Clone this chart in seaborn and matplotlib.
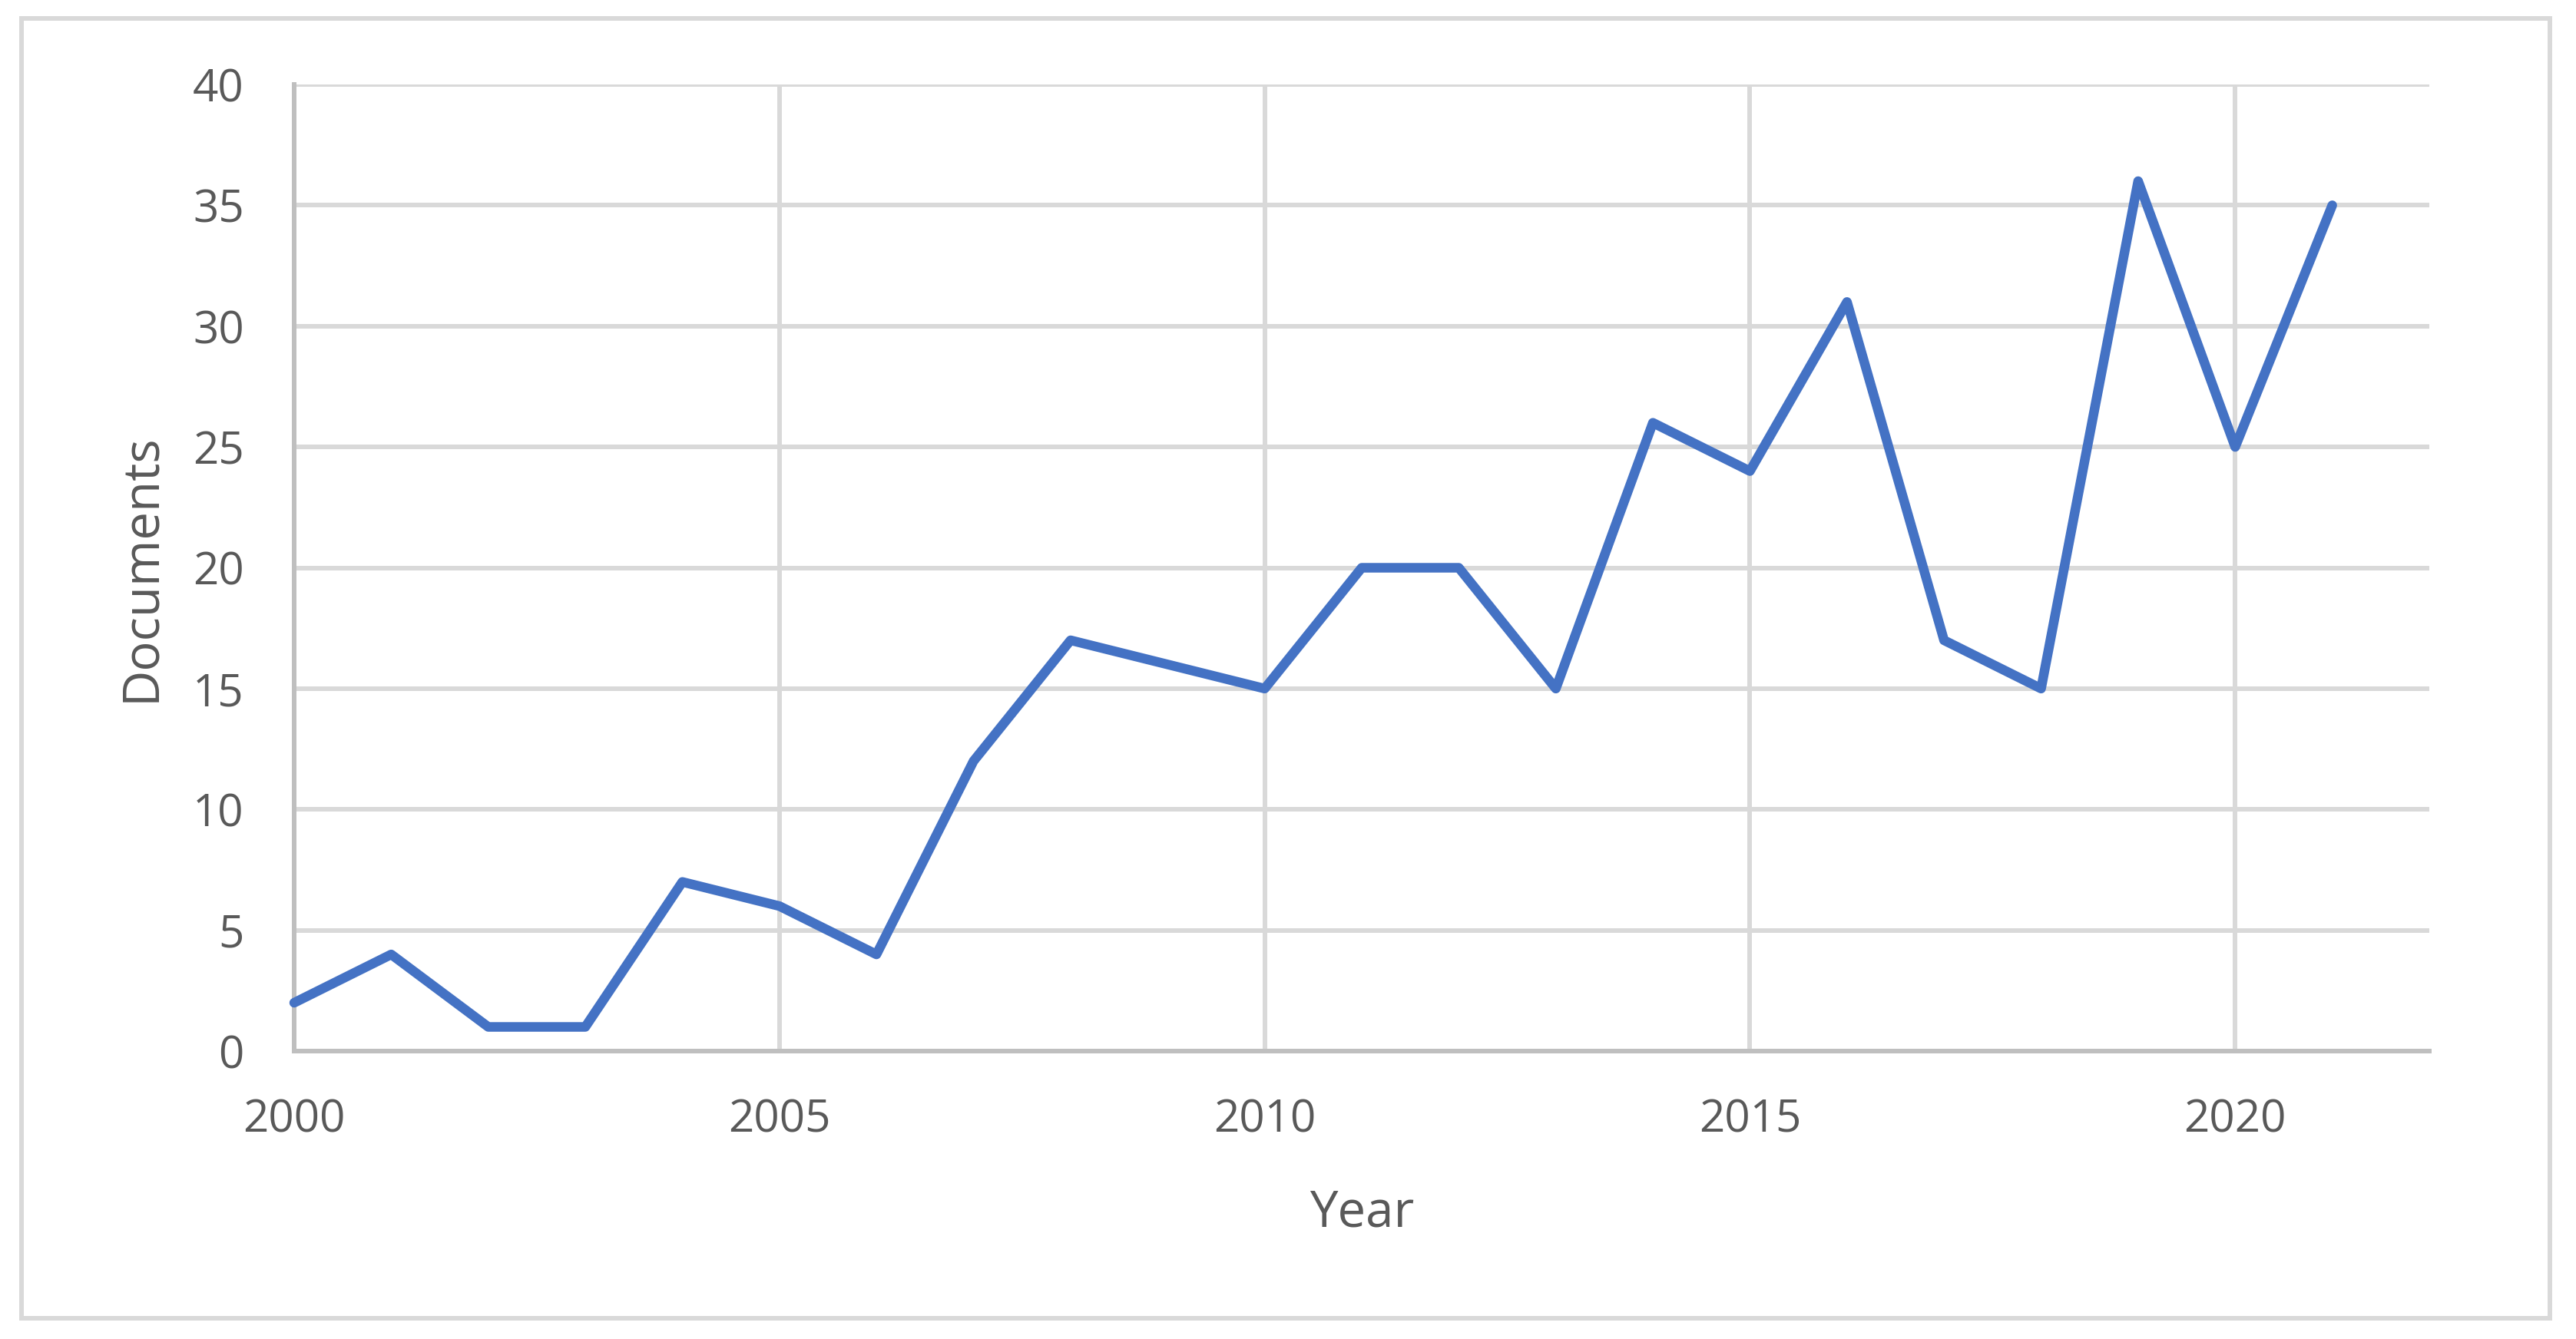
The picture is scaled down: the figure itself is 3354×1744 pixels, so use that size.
import seaborn as sns
import matplotlib.pyplot as plt
import pandas as pd
from matplotlib.patches import Rectangle

# data
years = [2000, 2001, 2002, 2003, 2004, 2005, 2006, 2007, 2008, 2009, 2010,
         2011, 2012, 2013, 2014, 2015, 2016, 2017, 2018, 2019, 2020, 2021]
documents = [2, 4, 1, 1, 7, 6, 4, 12, 17, 16, 15,
             20, 20, 15, 26, 24, 31, 17, 15, 36, 25, 35]

x_ticks = [2000, 2005, 2010, 2015, 2020]
y_ticks = [0, 5, 10, 15, 20, 25, 30, 35, 40]

df = pd.DataFrame({"Year": years, "Documents": documents})

sns.set_style("white")
plt.rcParams["font.family"] = ["Open Sans", "DejaVu Sans"]

text_col = "#595959"
grid_col = "#D9D9D9"
spine_col = "#BFBFBF"

fig = plt.figure(figsize=(33.55, 17.44), dpi=100)
ax = fig.add_axes([383 / 3355, 1 - 1369 / 1744, 2780 / 3355, 1259 / 1744])

sns.lineplot(
    x="Year",
    y="Documents",
    data=df,
    ax=ax,
    color="#4472C4",
    clip_on=False,
    zorder=5
)

# make the line as heavy as in the reference
line = ax.lines[0]
line.set_linewidth(9)
line.set_solid_capstyle("round")
line.set_solid_joinstyle("round")

ax.set_xlim(2000, 2022)
ax.set_ylim(0, 40)
ax.set_xticks(x_ticks)
ax.set_yticks(y_ticks)

ax.grid(True, color=grid_col, linewidth=4.3)
ax.set_axisbelow(True)

for side in ["top", "right"]:
    ax.spines[side].set_visible(False)
for side in ["left", "bottom"]:
    ax.spines[side].set_color(spine_col)
    ax.spines[side].set_linewidth(4.3)
    ax.spines[side].set_zorder(3)

ax.tick_params(axis="both", length=0, labelsize=42, labelcolor=text_col)
ax.tick_params(axis="y", pad=47)
ax.tick_params(axis="x", pad=44)

ax.set_xlabel("Year", fontsize=47, color=text_col, va="center")
ax.set_ylabel("Documents", fontsize=47, color=text_col, va="center")
ax.xaxis.set_label_coords(0.5, -0.168)
ax.yaxis.set_label_coords(-0.0716, 0.5)

# outer chart border
fig.patches.append(Rectangle(
    (28 / 3355, 1 - 1717 / 1744), (3320 - 28) / 3355, (1717 - 24) / 1744,
    transform=fig.transFigure, fill=False, edgecolor=grid_col, linewidth=4.3
))

fig.savefig("out.png", dpi=100, facecolor="white")
